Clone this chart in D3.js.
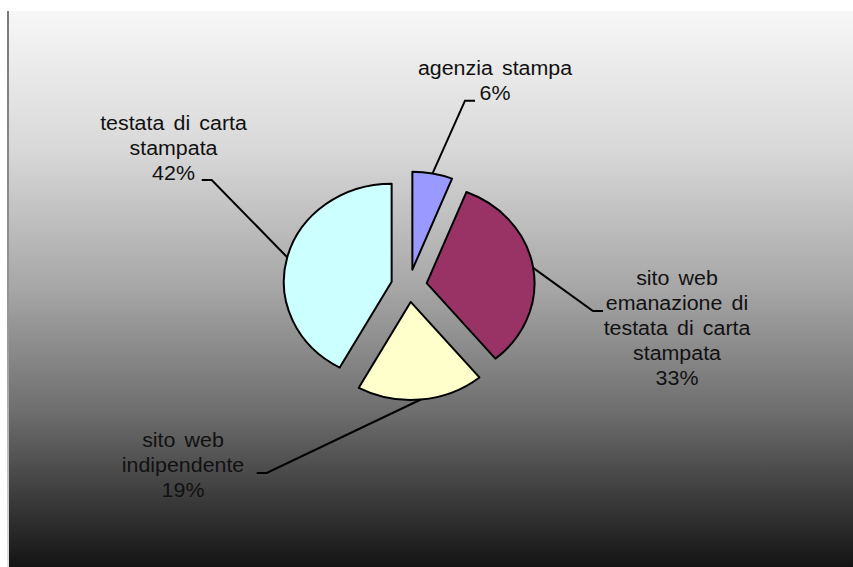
<!DOCTYPE html>
<html>
<head>
<meta charset="utf-8">
<script src="https://cdn.jsdelivr.net/npm/d3@7"></script>
<style>
  html, body { margin: 0; padding: 0; background: #ffffff; }
  svg { display: block; }
  text { font-family: "Liberation Sans", Arial, sans-serif; }
</style>
</head>
<body>
<svg id="chart" width="853" height="567"></svg>
<script>
// ---- data ----
const categories = ["agenzia stampa", "sito web emanazione di testata di carta stampata", "sito web indipendente", "testata di carta stampata"];
const values = [6, 33, 19, 42];
const labelLines = [
  ["agenzia stampa", "6%"],
  ["sito web", "emanazione di", "testata di carta", "stampata", "33%"],
  ["sito web", "indipendente", "19%"],
  ["testata di carta", "stampata", "42%"]
];
const colors = ["#9999ff", "#993366", "#ffffcc", "#ccffff"];

// ---- layout ----
const W = 853, H = 567;
const cx = 409, cy = 285.7, R = 98, explode = 16.3, sx = 1.1;
const labelLayout = [
  { x: 495, y: 75,  elbow: [465, 100.7], end: [475, 100.7] },
  { x: 677, y: 285, elbow: [593, 311],   end: [603, 311] },
  { x: 183, y: 447, elbow: [266.7, 473], end: [256.7, 473] },
  { x: 173.5, y: 130, elbow: [211.7, 180], end: [201.7, 180] }
];
const lineH = 25;
const textSx = 1.07;

const svg = d3.select("#chart");
const defs = svg.append("defs");
const grad = defs.append("linearGradient").attr("id", "bg").attr("x1", 0).attr("y1", 0).attr("x2", 0).attr("y2", 1);
[[0, "#f7f7f7"], [0.25, "#d8d8d8"], [0.5, "#a6a6a6"], [0.72, "#6e6e6e"], [0.88, "#3a3a3a"], [1, "#141414"]]
  .forEach(([o, c]) => grad.append("stop").attr("offset", o).attr("stop-color", c));

svg.append("rect").attr("x", 0).attr("y", 0).attr("width", W).attr("height", H).attr("fill", "#ffffff");
svg.append("rect").attr("x", 8).attr("y", 11).attr("width", W - 8).attr("height", H - 11).attr("fill", "url(#bg)");
const bgrad = defs.append("linearGradient").attr("id", "bd").attr("x1", 0).attr("y1", 0).attr("x2", 0).attr("y2", 1);
[[0, "#7a7a7a"], [0.6, "#9a9a9a"], [1, "#e0e0e0"]].forEach(([o, c]) => bgrad.append("stop").attr("offset", o).attr("stop-color", c));
svg.append("rect").attr("x", 7).attr("y", 11).attr("width", 2).attr("height", H - 11).attr("fill", "url(#bd)");

const pie = d3.pie().value(d => d).sort(null);
const arcs = pie(values);
const arc = d3.arc().innerRadius(0).outerRadius(R);

const g = svg.append("g").attr("transform", `translate(${cx},${cy}) scale(${sx},1)`);
arcs.forEach((a, i) => {
  const mid = (a.startAngle + a.endAngle) / 2;
  const dx = Math.sin(mid) * explode, dy = -Math.cos(mid) * explode;
  g.append("path")
    .attr("d", arc(a))
    .attr("transform", `translate(${dx},${dy})`)
    .attr("fill", colors[i])
    .attr("stroke", "#000")
    .attr("stroke-width", 2)
    .attr("stroke-linejoin", "round")
    .attr("vector-effect", "non-scaling-stroke");
});

arcs.forEach((a, i) => {
  const mid = (a.startAngle + a.endAngle) / 2;
  const px = cx + sx * Math.sin(mid) * (explode + R);
  const py = cy - Math.cos(mid) * (explode + R);
  const L = labelLayout[i];
  svg.append("path")
    .attr("d", d3.line()([[px, py], L.elbow, L.end]))
    .attr("fill", "none").attr("stroke", "#000").attr("stroke-width", 2);
  const t = svg.append("text")
    .attr("transform", `translate(${L.x},0) scale(${textSx},1)`)
    .attr("x", 0).attr("y", L.y)
    .attr("text-anchor", "middle")
    .attr("font-size", 20)
    .attr("word-spacing", 3)
    .attr("fill", "#111");
  labelLines[i].forEach((s, k) => {
    t.append("tspan").attr("x", 0).attr("y", L.y + k * lineH).text(s);
  });
});
</script>
</body>
</html>
